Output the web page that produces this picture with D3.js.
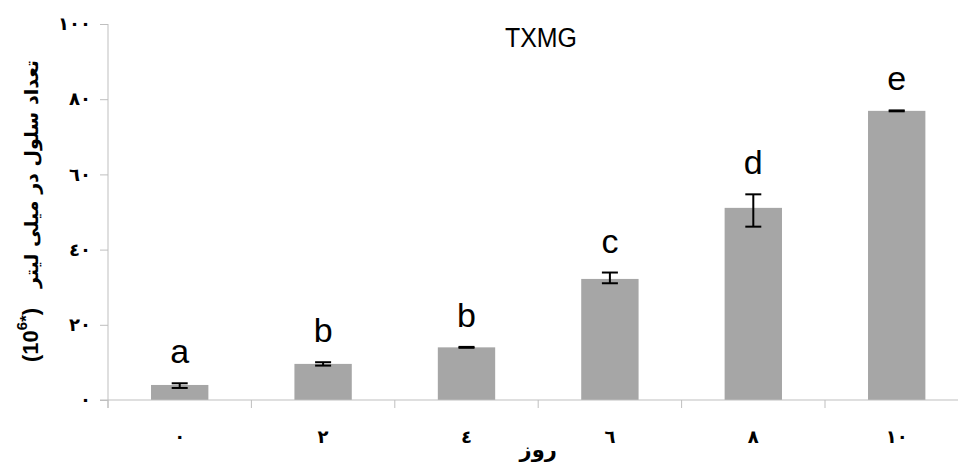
<!DOCTYPE html>
<html>
<head>
<meta charset="utf-8">
<script src="https://cdn.jsdelivr.net/npm/d3@7"></script>
<style>
  html, body { margin: 0; padding: 0; background: #fff; }
  svg { display: block; }
</style>
</head>
<body>
<svg id="chart" width="958" height="464"></svg>
<script>
// ---- data ----
const categories = ["0", "2", "4", "6", "8", "10"];
const xTickLabels = ["٠", "٢", "٤", "٦", "٨", "١٠"];
const values = [4.0, 9.6, 14.0, 32.2, 51.1, 76.9];
const errUp = [0.45, 0.45, 0.12, 1.7, 3.6, 0.12];
const errDown = [0.8, 0.45, 0.12, 1.15, 5.0, 0.12];
const letters = ["a", "b", "b", "c", "d", "e"];
const yTickValues = [0, 20, 40, 60, 80, 100];
const yTickLabels = ["٠", "٢٠", "٤٠", "٦٠", "٨٠", "١٠٠"];
const chartTitle = "TXMG";
const xTitle = "روز";
const yTitleFa = "تعداد سلول در میلی لیتر";

// ---- layout ----
const svg = d3.select("#chart");
const mLeft = 108, mRight = 968.4, mTop = 24, mBottom = 400;

const x = d3.scaleBand().domain(categories).range([mLeft, mRight])
  .paddingInner(0.6).paddingOuter(0.3);
const y = d3.scaleLinear().domain([0, 100]).range([mBottom, mTop]);

const axisColor = "#bfbfbf";
const arFont = "'DejaVu Sans', sans-serif";
const latFont = "'Liberation Sans', Arial, sans-serif";

// bars
svg.append("g").selectAll("rect").data(values).join("rect")
  .attr("x", (d, i) => x(categories[i]))
  .attr("y", d => y(d))
  .attr("width", x.bandwidth())
  .attr("height", d => y(0) - y(d))
  .attr("fill", "#a6a6a6");

// y axis
const yAxis = d3.axisLeft(y).tickValues(yTickValues)
  .tickFormat((d, i) => yTickLabels[i]).tickSize(8).tickPadding(9);
const gy = svg.append("g").attr("transform", `translate(${mLeft},0)`).call(yAxis);
gy.select(".domain").remove();
gy.selectAll(".tick line").attr("stroke", axisColor);
gy.selectAll(".tick text").attr("font-family", arFont).attr("font-size", 18)
  .attr("font-weight", "bold").attr("fill", "#000");
svg.append("line").attr("x1", mLeft).attr("x2", mLeft)
  .attr("y1", y(100)).attr("y2", mBottom + 8).attr("stroke", axisColor);

// x axis
svg.append("line").attr("x1", mLeft - 8).attr("x2", mRight)
  .attr("y1", mBottom).attr("y2", mBottom).attr("stroke", axisColor);
const step = x.step();
const boundaries = categories.map(c => x(c) - step * x.paddingInner() / 2);
svg.append("g").selectAll("line").data(boundaries).join("line")
  .attr("x1", d => d).attr("x2", d => d)
  .attr("y1", mBottom).attr("y2", mBottom + 8).attr("stroke", axisColor);
const xAxis = d3.axisBottom(x).tickSize(0).tickPadding(30)
  .tickFormat((d, i) => xTickLabels[i]);
const gx = svg.append("g").attr("transform", `translate(0,${mBottom})`).call(xAxis);
gx.select(".domain").remove();
gx.selectAll(".tick text").attr("font-family", arFont).attr("font-size", 18)
  .attr("font-weight", "bold").attr("fill", "#000");

// error bars
const eb = svg.append("g").attr("stroke", "#000").attr("stroke-width", 2);
values.forEach((v, i) => {
  const cx = x(categories[i]) + x.bandwidth() / 2;
  const y1 = y(v + errUp[i]), y2 = y(v - errDown[i]);
  eb.append("line").attr("x1", cx).attr("x2", cx).attr("y1", y1).attr("y2", y2);
  eb.append("line").attr("x1", cx - 8).attr("x2", cx + 8).attr("y1", y1).attr("y2", y1);
  eb.append("line").attr("x1", cx - 8).attr("x2", cx + 8).attr("y1", y2).attr("y2", y2);
});

// letters
svg.append("g").selectAll("text").data(letters).join("text")
  .attr("x", (d, i) => x(categories[i]) + x.bandwidth() / 2)
  .attr("y", (d, i) => y(values[i] + errUp[i]) - 20)
  .attr("text-anchor", "middle")
  .attr("font-family", latFont).attr("font-size", 34).attr("fill", "#000")
  .text(d => d);

// title
svg.append("text").attr("x", 541).attr("y", 46.5).attr("text-anchor", "middle")
  .attr("font-family", latFont).attr("font-size", 27)
  .attr("textLength", 72).attr("lengthAdjust", "spacingAndGlyphs")
  .text(chartTitle);

// x title
svg.append("text").attr("x", (mLeft + mRight) / 2).attr("y", 457)
  .attr("text-anchor", "middle").attr("font-family", arFont)
  .attr("font-size", 21).attr("font-weight", "bold").text(xTitle);

// y title (rotated)
const gt = svg.append("g").attr("transform", "translate(38,210) rotate(-90)");
gt.append("text").attr("x", 150).attr("y", 0).attr("text-anchor", "end")
  .attr("font-family", arFont).attr("font-size", 19).attr("font-weight", "bold")
  .text(yTitleFa);
const lt = gt.append("text").attr("x", -152).attr("y", 0).attr("text-anchor", "start")
  .attr("font-family", latFont).attr("font-size", 22).attr("font-weight", "bold");
lt.append("tspan").text("(10");
lt.append("tspan").attr("dy", -11).attr("font-size", 15).text("6");
lt.append("tspan").attr("dy", 5).attr("font-size", 17).text("*");
lt.append("tspan").attr("dy", 6).text(")");
</script>
</body>
</html>
